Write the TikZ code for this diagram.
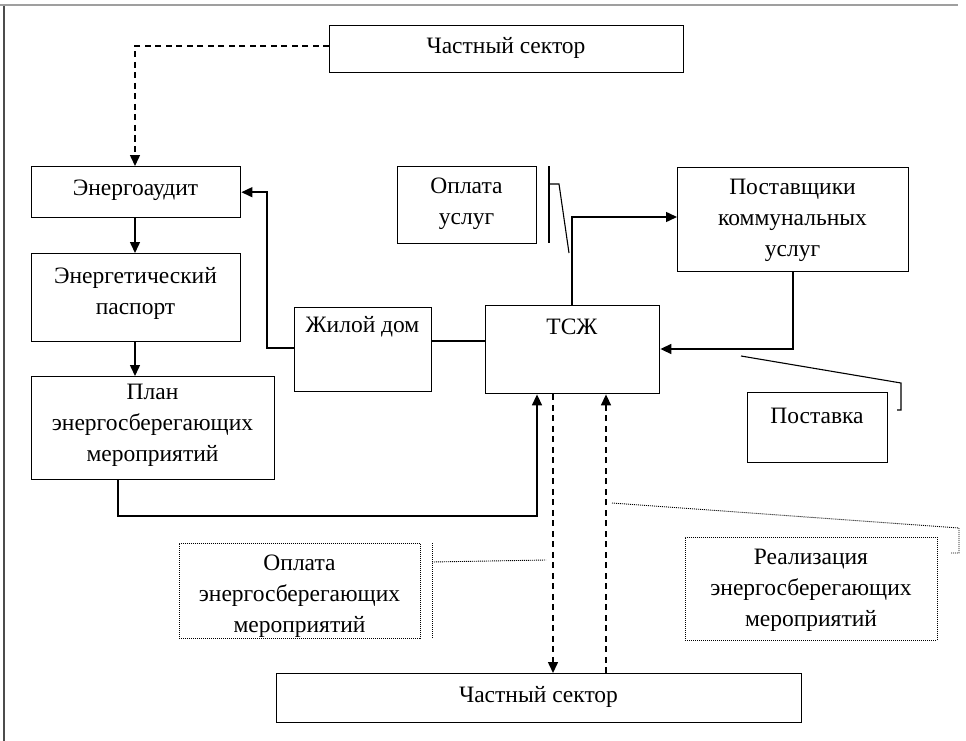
\documentclass[tikz,border=0pt]{standalone}
\usepackage{fontspec}
\setmainfont{Liberation Serif}
\newfontfamily\diagfont{Liberation Serif}
\usetikzlibrary{arrows.meta}
\begin{document}
\begin{tikzpicture}[x=1pt,y=-1pt,
  box/.style={draw,line width=1.4pt,inner sep=0pt,anchor=north west},
  dbox/.style={draw,line width=0.9pt,dash pattern=on 1pt off 1pt,inner sep=0pt,anchor=north west},
  txt/.style={font=\diagfont\fontsize{23.5}{31}\selectfont,align=center,inner sep=0pt},
  conn/.style={line width=1.5pt},
  arr/.style={line width=1.5pt,-{Triangle[length=11pt,width=10pt]}},
  darr/.style={line width=1.5pt,dash pattern=on 6pt off 4.5pt,-{Triangle[length=11pt,width=10pt]}},
  callout/.style={line width=1.1pt},
  dcallout/.style={line width=0.9pt,dash pattern=on 1pt off 1pt}]
\useasboundingbox[fill=white] (0,0) rectangle (966,741);
% page frame
\draw[line width=2pt,gray!75] (0,5) -- (958,5);
\draw[line width=1.2pt,black!70] (4,6) -- (4,741);
% boxes
\node[box,minimum width=354pt,minimum height=47pt] (ps1) at (329,25) {};
\node[txt] (ps1t) at (506,48) {Частный сектор};
\node[box,minimum width=209pt,minimum height=51pt] (ea) at (31,166) {};
\node[txt] (eat) at (135.5,190) {Энергоаудит};
\node[box,minimum width=209pt,minimum height=88pt] (pasp) at (31,253) {};
\node[txt] (paspt) at (135.5,293) {Энергетический\\паспорт};
\node[box,minimum width=243pt,minimum height=103pt] (plan) at (31,376) {};
\node[txt] (plant) at (152.5,425) {План\\энергосберегающих\\мероприятий};
\node[box,minimum width=137pt,minimum height=84pt] (zd) at (294,307) {};
\node[txt] (zdt) at (362.5,327) {Жилой дом};
\node[box,minimum width=174pt,minimum height=88pt] (tsj) at (485,305) {};
\node[txt] (tsjt) at (572,327) {ТСЖ};
\node[box,minimum width=139pt,minimum height=77pt] (ou) at (397,166) {};
\node[txt] (out) at (466.5,204) {Оплата\\услуг};
\node[box,minimum width=231pt,minimum height=104pt] (post) at (677,167) {};
\node[txt] (postt) at (792.5,220) {Поставщики\\коммунальных\\услуг};
\node[box,minimum width=140pt,minimum height=70pt] (pstv) at (747,392) {};
\node[txt] (pstvt) at (817,416) {Поставка};
\node[dbox,minimum width=241pt,minimum height=95pt] (oe) at (179,543) {};
\node[txt] (oet) at (299.5,596) {Оплата\\энергосберегающих\\мероприятий};
\node[dbox,minimum width=252pt,minimum height=103pt] (re) at (685,537) {};
\node[txt] (ret) at (811,590) {Реализация\\энергосберегающих\\мероприятий};
\node[box,minimum width=525pt,minimum height=49pt] (ps2) at (276,673) {};
\node[txt] (ps2t) at (538.5,697) {Частный сектор};
% helper coordinates
\coordinate (k1) at (118,516);
\coordinate (k2) at (537,516);
\coordinate (k3) at (267,348);
\coordinate (k4) at (458,341);
\coordinate (k5) at (572,217);
\coordinate (k6) at (793,349);
\coordinate (k7) at (135,46);
\coordinate (k8) at (553,600);
\coordinate (k9) at (606,600);
% connectors
\draw[darr] (ps1.west |- k7) -- (k7) -- (ea.north -| k7);
\draw[arr] (ea.south -| k7) -- (pasp.north -| k7);
\draw[arr] (pasp.south -| k7) -- (plan.north -| k7);
\draw[arr] (plan.south -| k1) -- (k1) -- (k2) -- (tsj.south -| k2);
\draw[arr] (zd.west |- k3) -- (k3) -- (k3 |- ea.east) -- (ea.east);
\draw[conn] (zd.east |- k4) -- (tsj.west |- k4);
\draw[arr] (tsj.north -| k5) -- (k5) -- (post.west |- k5);
\draw[arr] (post.south -| k6) -- (k6) -- (tsj.east |- k6);
\draw[darr] (tsj.south -| k8) -- (ps2.north -| k8);
\draw[darr] (ps2.north -| k9) -- (tsj.south -| k9);
% callouts
\draw[callout] (549,166) -- (549,243);
\draw[callout] (549,184) -- (559,184) -- (569,253);
\draw[callout] (741,356) -- (901,383) -- (901,410) -- (897,410);
\draw[dcallout] (432,543) -- (432,638);
\draw[dcallout] (432,562) -- (546,560);
\draw[dcallout] (612,503) -- (959,528) -- (959,553) -- (951,553);
\end{tikzpicture}
\end{document}
